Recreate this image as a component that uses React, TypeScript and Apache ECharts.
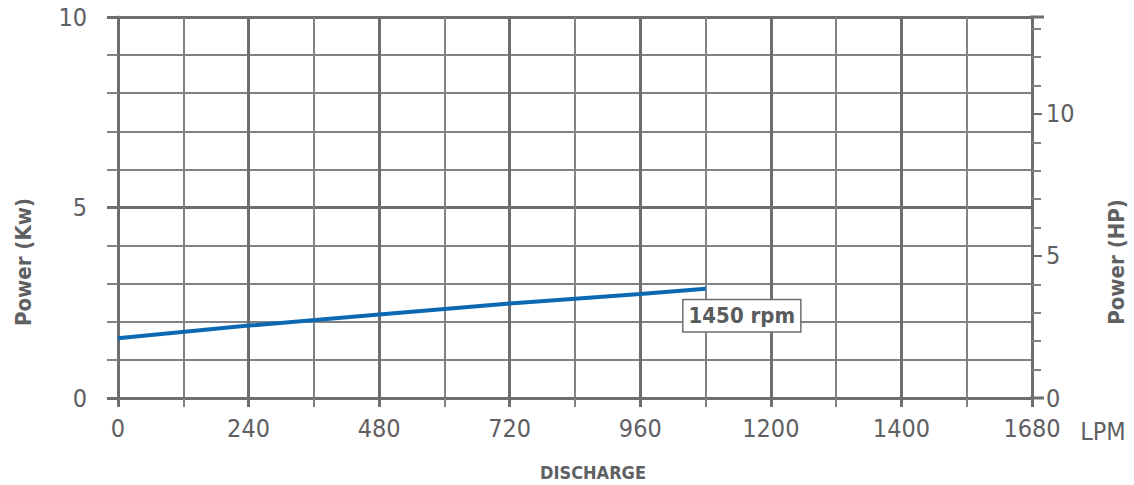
import React, { useEffect, useRef } from "react";
import * as echarts from "echarts";

const dischargeLpm = [0, 240, 480, 720, 960, 1080];
const powerKw = [1.57, 1.9, 2.19, 2.48, 2.73, 2.87];
const seriesLabel = "1450 rpm";
const xTickRename: Record<number, string> = { 1440: "1400" };
const kwToHp = 1.341;

const FONT = "'Liberation Sans Narrow', 'DejaVu Sans Condensed', Roboto, sans-serif";
const MAJOR = "#6d6e71";
const MINOR = "#818285";
const TEXT = "#5f6062";

export default function App() {
  const ref = useRef<HTMLDivElement>(null);
  useEffect(() => {
    if (!ref.current) return;
    const chart = echarts.init(ref.current, null, { renderer: "svg" });
    const data = dischargeLpm.map((x, i) => [x, powerKw[i]]);
    chart.setOption({
      animation: false,
      grid: { left: 118, right: 102, top: 17, bottom: 87 },
      xAxis: {
        type: "value",
        min: 0,
        max: 1680,
        interval: 240,
        axisLine: { show: true, onZero: false, lineStyle: { color: MAJOR, width: 3 } },
        axisTick: { show: true, length: 9, lineStyle: { color: MAJOR, width: 3 } },
        minorTick: { show: true, splitNumber: 2, length: 9, lineStyle: { color: MINOR, width: 2 } },
        splitLine: { show: true, lineStyle: { color: MAJOR, width: 3 } },
        minorSplitLine: { show: true, lineStyle: { color: MINOR, width: 2 } },
        axisLabel: {
          margin: 18,
          fontFamily: FONT,
          fontSize: 25,
          color: TEXT,
          formatter: (v: number) => xTickRename[v] ?? String(v),
        },
      },
      yAxis: [
        {
          type: "value",
          min: 0,
          max: 10,
          interval: 5,
          axisLine: { show: true, lineStyle: { color: MAJOR, width: 3 } },
          axisTick: { show: true, length: 11, lineStyle: { color: MAJOR, width: 3 } },
          minorTick: { show: true, splitNumber: 5, length: 11, lineStyle: { color: MINOR, width: 2 } },
          splitLine: { show: true, lineStyle: { color: MAJOR, width: 3 } },
          minorSplitLine: { show: true, lineStyle: { color: MINOR, width: 2 } },
          axisLabel: { margin: 31, fontFamily: FONT, fontSize: 25, color: TEXT },
        },
        {
          type: "value",
          position: "right",
          min: 0,
          max: 10 * kwToHp,
          interval: 5,
          axisLine: { show: true, lineStyle: { color: MAJOR, width: 3 } },
          axisTick: { show: true, length: 10, lineStyle: { color: MAJOR, width: 2 } },
          minorTick: { show: true, splitNumber: 5, length: 9, lineStyle: { color: MINOR, width: 2 } },
          splitLine: { show: false },
          axisLabel: {
            margin: 14,
            fontFamily: FONT,
            fontSize: 25,
            color: TEXT,
            showMaxLabel: false,
          },
        },
      ],
      series: [
        {
          type: "line",
          data,
          yAxisIndex: 0,
          symbol: "none",
          lineStyle: { color: "#0b69b3", width: 4 },
          endLabel: {
            show: true,
            formatter: seriesLabel,
            offset: [-30, 27],
            fontFamily: FONT,
            fontSize: 22,
            fontWeight: "bold",
            color: "#5a5b5d",
            backgroundColor: "#ffffff",
            borderColor: MAJOR,
            borderWidth: 1.5,
            padding: [5, 5, 4, 5],
          },
        },
      ],
      graphic: [
        {
          type: "line",
          shape: { x1: 1030, y1: 17, x2: 1044, y2: 17 },
          style: { stroke: MAJOR, lineWidth: 3 },
        },
        {
          type: "line",
          shape: { x1: 1030, y1: 398, x2: 1044, y2: 398 },
          style: { stroke: MAJOR, lineWidth: 3 },
        },
        {
          type: "text",
          x: 23,
          y: 262,
          rotation: Math.PI / 2,
          style: {
            text: "Power (Kw)",
            fontFamily: FONT,
            fontSize: 22,
            fontWeight: "bold",
            fill: TEXT,
            align: "center",
            verticalAlign: "middle",
          },
        },
        {
          type: "text",
          x: 1116,
          y: 262,
          rotation: Math.PI / 2,
          style: {
            text: "Power (HP)",
            fontFamily: FONT,
            fontSize: 22,
            fontWeight: "bold",
            fill: TEXT,
            align: "center",
            verticalAlign: "middle",
          },
        },
        {
          type: "text",
          x: 1103,
          y: 431,
          style: {
            text: "LPM",
            fontFamily: FONT,
            fontSize: 25,
            fill: TEXT,
            align: "center",
            verticalAlign: "middle",
          },
        },
        {
          type: "text",
          x: 593,
          y: 472,
          style: {
            text: "DISCHARGE",
            fontFamily: FONT,
            fontSize: 18,
            fontWeight: "bold",
            fill: TEXT,
            align: "center",
            verticalAlign: "middle",
          },
        },
      ],
    });
    return () => chart.dispose();
  }, []);
  return (
    <div
      ref={ref}
      style={{ position: "fixed", left: 0, top: 0, width: 1134, height: 485, background: "#fff" }}
    />
  );
}
